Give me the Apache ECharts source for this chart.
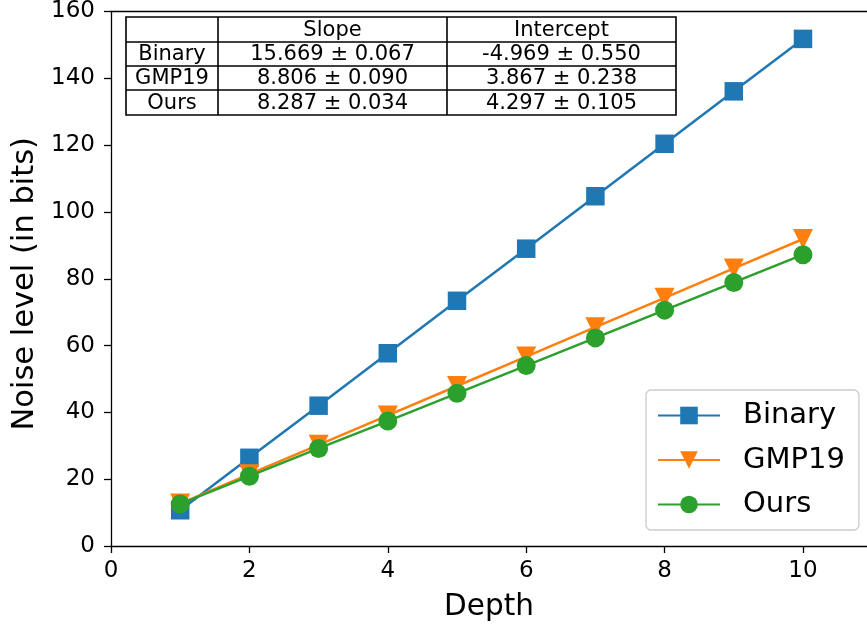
<!DOCTYPE html>
<html><head><meta charset="utf-8">
<script src="https://cdn.jsdelivr.net/npm/echarts@6/dist/echarts.min.js"></script>
<style>html,body{margin:0;padding:0;background:#fff}#c{width:867px;height:629px}</style>
</head><body><div id="c"></div>
<script>
const depth = [1,2,3,4,5,6,7,8,9,10];
const binary = [10.7, 26.4, 42.0, 57.7, 73.4, 89.0, 104.7, 120.4, 136.1, 151.8];
const gmp19 = [12.7, 21.5, 30.3, 39.1, 47.9, 56.7, 65.5, 74.3, 83.1, 91.9];
const ours = [12.6, 20.9, 29.2, 37.4, 45.7, 54.0, 62.3, 70.6, 78.9, 87.2];
const xTicks = [0,2,4,6,8,10];
const tableHeader = ['', 'Slope', 'Intercept'];
const tableRows = [
  ['Binary', '15.669 ± 0.067', '-4.969 ± 0.550'],
  ['GMP19', '8.806 ± 0.090', '3.867 ± 0.238'],
  ['Ours', '8.287 ± 0.034', '4.297 ± 0.105']
];
const FONT = 'DejaVu Sans';
const C = ['#1f77b4', '#ff7f0e', '#2ca02c'];

// table graphic
const colX = [126, 218, 447, 676];
const rowY = [17, 42, 66, 90, 115];
const g = [];
g.push({type:'rect', shape:{x:colX[0], y:rowY[0], width:colX[3]-colX[0], height:rowY[4]-rowY[0]}, style:{fill:'#fff', stroke:'#000', lineWidth:1.6}, z:100});
for (let i=1;i<3;i++) g.push({type:'line', shape:{x1:colX[i], y1:rowY[0], x2:colX[i], y2:rowY[4]}, style:{stroke:'#000', lineWidth:1.6}, z:101});
for (let j=1;j<4;j++) g.push({type:'line', shape:{x1:colX[0], y1:rowY[j], x2:colX[3], y2:rowY[j]}, style:{stroke:'#000', lineWidth:1.6}, z:101});
const allRows = [tableHeader].concat(tableRows);
allRows.forEach((r, j) => r.forEach((t, i) => {
  if (!t) return;
  g.push({type:'text', x:(colX[i]+colX[i+1])/2, y:(rowY[j]+rowY[j+1])/2 + 1, style:{text:t, fill:'#000', font:'21px "' + FONT + '"', align:'center', verticalAlign:'middle'}, z:102});
}));

const chart = echarts.init(document.getElementById('c'), null, {renderer:'canvas'});
const axisLine = {show:true, lineStyle:{color:'#000', width:1.3}};
chart.setOption({
  animation:false,
  backgroundColor:'#fff',
  textStyle:{fontFamily:FONT},
  grid:{left:111, right:0, top:8, bottom:83, containLabel:false},
  xAxis:[{
    type:'value', min:0, max:10.925, interval:2,
    name:'Depth', nameLocation:'middle', nameGap:46,
    nameTextStyle:{fontSize:29.5, color:'#000', fontFamily:FONT},
    axisLine:axisLine,
    axisTick:{show:true, length:7, lineStyle:{color:'#000', width:1.3}, customValues:xTicks},
    axisLabel:{fontSize:23, color:'#000', margin:14, fontFamily:FONT, customValues:xTicks},
    splitLine:{show:false}
  },{
    type:'value', position:'top', min:0, max:10.925,
    axisLine:axisLine, axisTick:{show:false}, axisLabel:{show:false}, splitLine:{show:false}
  }],
  yAxis:{
    type:'value', min:0, max:160, interval:20,
    name:'Noise level (in bits)', nameLocation:'middle', nameGap:68,
    nameTextStyle:{fontSize:30.5, color:'#000', fontFamily:FONT, padding:[0,10,0,0]},
    axisLine:axisLine,
    axisTick:{show:true, length:7, lineStyle:{color:'#000', width:1.3}},
    axisLabel:{fontSize:23, color:'#000', margin:16, fontFamily:FONT},
    splitLine:{show:false}
  },
  legend:{
    orient:'vertical', left:646, top:390,
    padding:[11, 14, 11, 11],
    borderColor:'#cccccc', borderWidth:1.3, borderRadius:5,
    backgroundColor:'rgba(255,255,255,0.8)',
    itemWidth:62, itemHeight:22, itemGap:15.5,
    textStyle:{fontSize:29, color:'#000', fontFamily:FONT, padding:[0,0,0,18]},
    data:['Binary','GMP19','Ours']
  },
  series:[
    {name:'Binary', type:'line', data:depth.map((d,i)=>[d, binary[i]]), color:C[0], symbol:'rect', symbolSize:18.5, lineStyle:{width:2.5}, itemStyle:{color:C[0]}},
    {name:'GMP19', type:'line', data:depth.map((d,i)=>[d, gmp19[i]]), color:C[1], symbol:'triangle', symbolRotate:180, symbolSize:20, lineStyle:{width:2.5}, itemStyle:{color:C[1]}},
    {name:'Ours', type:'line', data:depth.map((d,i)=>[d, ours[i]]), color:C[2], symbol:'circle', symbolSize:19, lineStyle:{width:2.5}, itemStyle:{color:C[2]}}
  ],
  graphic:g
});
</script>
</body></html>
